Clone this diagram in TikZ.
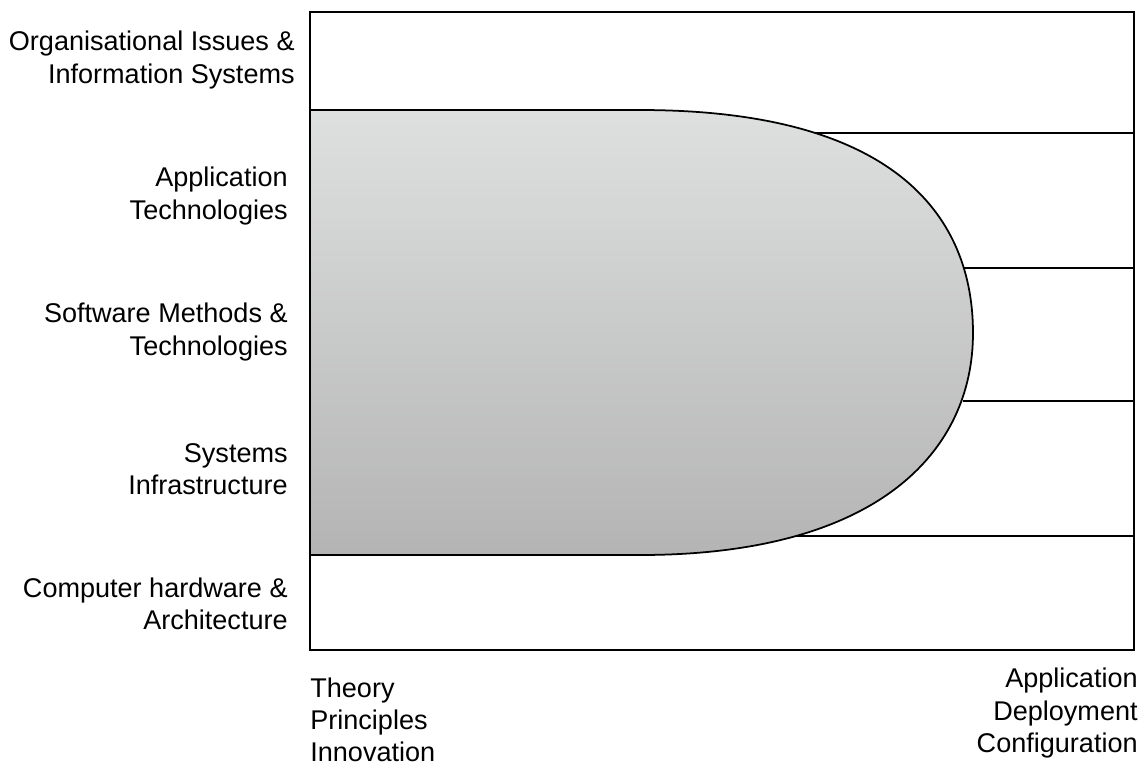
\documentclass[tikz,border=0pt]{standalone}
\usepackage{fontspec}
\setmainfont{Liberation Sans}
\definecolor{shadetop}{RGB}{222,223,223}
\definecolor{shadebot}{RGB}{180,180,180}
\begin{document}
\begin{tikzpicture}[x=0.02cm, y=-0.02cm, font=\fontsize{15.4}{18.3}\selectfont,
	layer/.style={align=right, anchor=east, inner sep=0pt},
	scale label/.style={inner sep=0pt}]
	\useasboundingbox (0,0) rectangle (1147,769);
	\path
		(310,12) coordinate (tl)
		(1134,650) coordinate (br)
		(815,133) coordinate (A)
		(963,268) coordinate (B)
		(963,401) coordinate (C)
		(796,536) coordinate (D)
	;
	% the shaded region
	\shadedraw[top color=shadetop, bottom color=shadebot, line width=1pt]
		(310,110) -- (640,110) .. controls (900,110) and (973,220) .. (973,333)
		.. controls (973,450) and (880,555) .. (640,555) -- (310,555) -- cycle;
	\draw[line width=1.1pt] (tl) rectangle (br);
	\draw[line width=1pt]
		(A) -- (A -| br)
		(B) -- (B -| br)
		(C) -- (C -| br)
		(D) -- (D -| br)
	;
	\path
		(295,60) node[layer] (org) {Organisational Issues \&\\Information Systems}
		(288,196) node[layer] (app) {Application\\Technologies}
		(288,332) node[layer] (soft) {Software Methods \&\\Technologies}
		(288,469) node[layer] (sys) {Systems\\Infrastructure}
		(288,604) node[layer] (hw) {Computer hardware \&\\Architecture}
		(310,720) node[scale label, align=left, anchor=west] (theory) {Theory\\Principles\\Innovation}
		(1138,713) node[scale label, align=right, anchor=east] (deploy) {Application\\Deployment\\Configuration}
	;
\end{tikzpicture}
\end{document}
